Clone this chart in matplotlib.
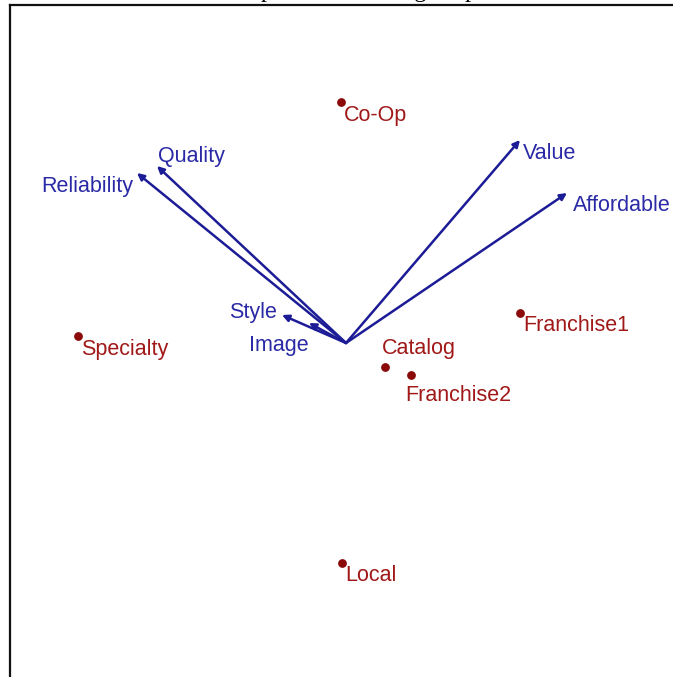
import matplotlib
matplotlib.use("Agg")
import matplotlib.pyplot as plt

# store positions (dimension 1, dimension 2)
stores = ["Co-Op", "Specialty", "Franchise1", "Catalog", "Franchise2", "Local"]
store_x = [-0.05, -2.68, 1.74, 0.39, 0.65, -0.04]
store_y = [2.41, 0.07, 0.30, -0.24, -0.32, -2.20]

# attribute vectors from the origin
attributes = ["Quality", "Reliability", "Value", "Affordable", "Style", "Image"]
attr_x = [-1.89, -2.09, 1.74, 2.21, -0.64, -0.37]
attr_y = [1.77, 1.70, 2.03, 1.50, 0.28, 0.20]

# label placement (points offset, alignment)
store_offsets = {
    "Co-Op": (2, -10, "left"),
    "Specialty": (2, -10, "left"),
    "Franchise1": (2, -9, "left"),
    "Catalog": (-2, 13, "left"),
    "Franchise2": (-4, -15, "left"),
    "Local": (2, -9, "left"),
}
attr_offsets = {
    "Quality": (1, 7, "left"),
    "Reliability": (-3, -10, "right"),
    "Value": (2, -10, "left"),
    "Affordable": (4, -9, "left"),
    "Style": (-4, 2, "right"),
    "Image": (0, -16, "right"),
}

plt.rcParams["font.family"] = ["Liberation Sans", "DejaVu Sans"]

fig = plt.figure(figsize=(6.73, 6.77), dpi=100)
fig.patch.set_facecolor("white")
ax = fig.add_axes([10 / 673, -0.02, 1.05, 1.02 - 5 / 677])

# px -> data: 100 px per unit, origin at pixel (346, 343)
ax.set_xlim(-3.36, -3.36 + 1.05 * 673 / 100)
ax.set_ylim(3.38 - (1.02 - 5 / 677) * 677 / 100, 3.38)

for s in ["right", "bottom"]:
    ax.spines[s].set_visible(False)
for s in ["left", "top"]:
    ax.spines[s].set_linewidth(1.6)
    ax.spines[s].set_color("#111111")
ax.set_xticks([])
ax.set_yticks([])

arrow_color = "#1c1c96"
for name, x, y in zip(attributes, attr_x, attr_y):
    ax.annotate("", xy=(x, y), xytext=(0, 0),
                arrowprops=dict(arrowstyle="-|>", color=arrow_color, lw=1.8,
                                mutation_scale=10, shrinkA=0, shrinkB=0))
    dx, dy, ha = attr_offsets[name]
    ax.annotate(name, xy=(x, y), xytext=(dx, dy), textcoords="offset points",
                ha=ha, va="center", fontsize=15.5, color="#2a2aa6")

ax.scatter(store_x, store_y, s=28, color="#8b0a0a", zorder=3)
for name, x, y in zip(stores, store_x, store_y):
    dx, dy, ha = store_offsets[name]
    ax.annotate(name, xy=(x, y), xytext=(dx, dy), textcoords="offset points",
                ha=ha, va="center", fontsize=15.5, color="#a01818")

# title sits mostly above the visible area
fig.text(0.508, 1 + 2.5 / 677, "Perceptual Positioning Map", ha="center",
         va="baseline", fontsize=17.5, family=["Liberation Serif", "DejaVu Serif"])

fig.savefig("out.png", dpi=100)
